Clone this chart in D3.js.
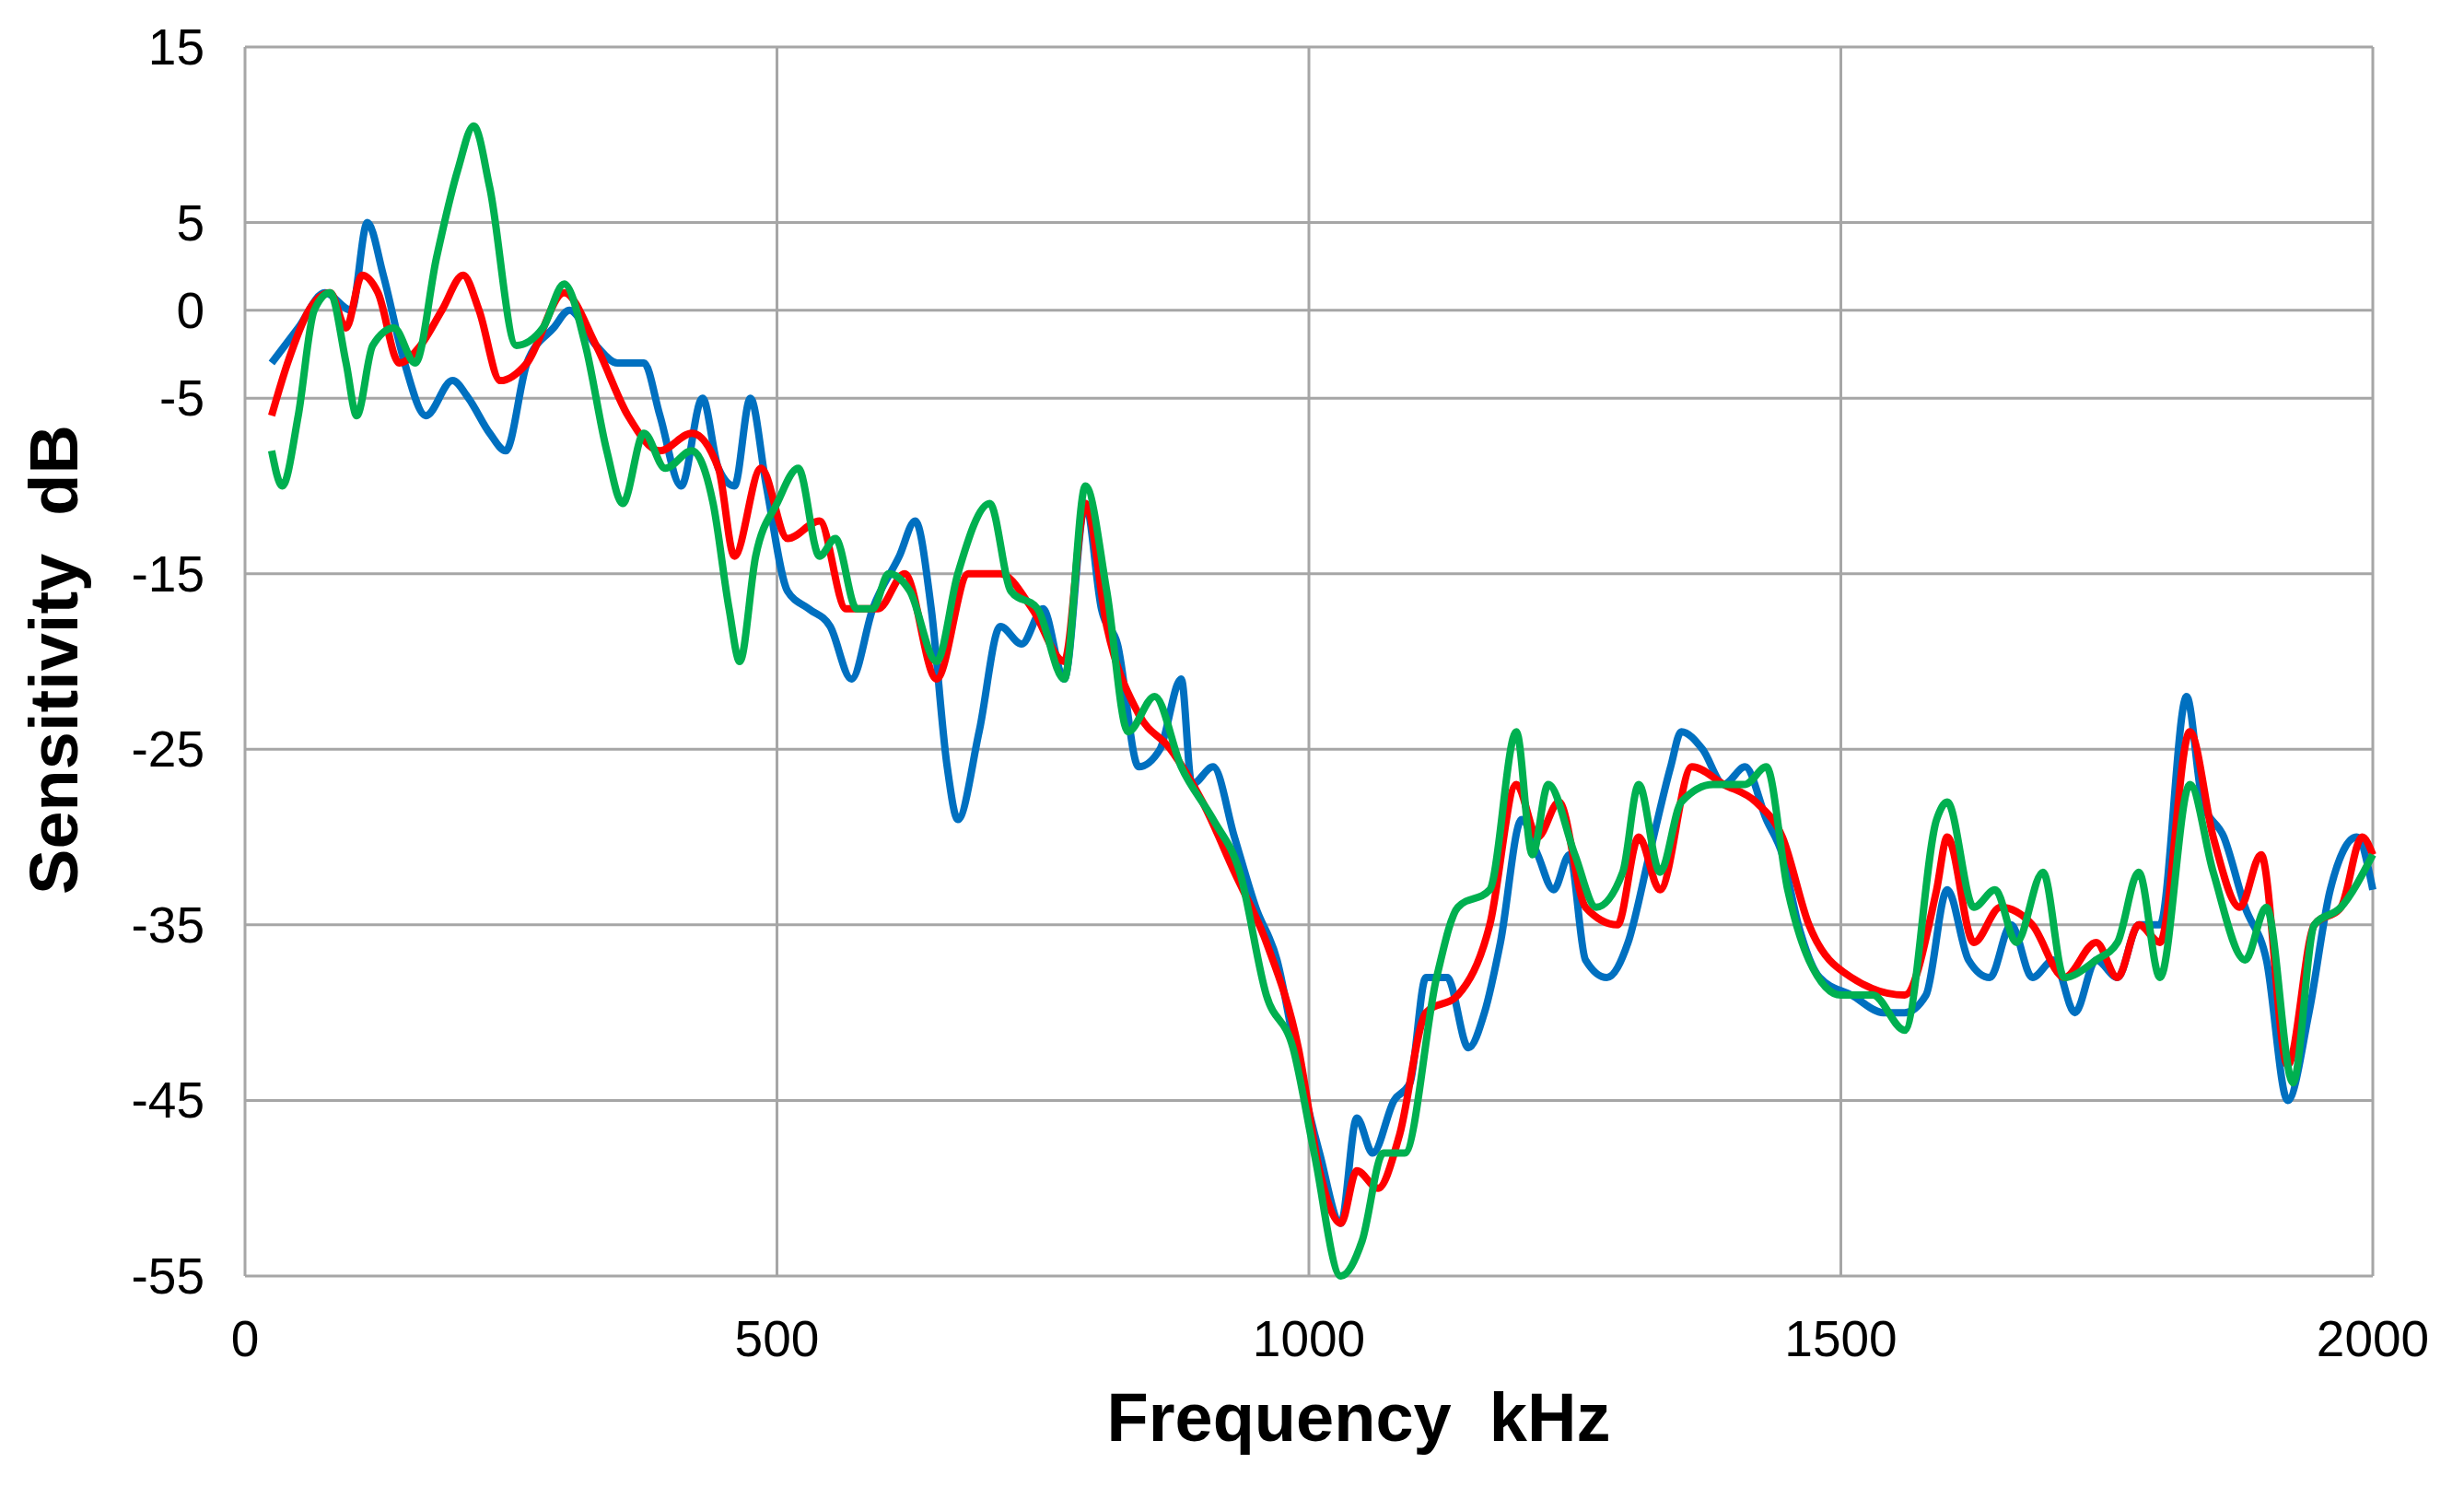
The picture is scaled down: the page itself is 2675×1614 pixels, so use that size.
<!DOCTYPE html>
<html><head><meta charset="utf-8">
<script src="https://cdn.jsdelivr.net/npm/d3@7"></script>
<style>body{margin:0;background:#fff}svg{display:block}</style>
</head><body>
<svg id="chart" width="2675" height="1614"></svg>
<script>
var yTicks = [15, 5, 0, -5, -15, -25, -35, -45, -55]
var xTicks = [0, 500, 1000, 1500, 2000]
var blueX = [25,50,75,100,115,130,150,170,195,210,230,245,265,290,305,330,350,375,390,410,430,445,460,475,490,510,530,550,570,590,615,630,645,660,670,690,710,730,750,770,790,805,820,840,860,880,890,910,930,950,970,990,1010,1030,1045,1060,1080,1095,1110,1130,1150,1165,1180,1200,1215,1230,1245,1260,1280,1300,1320,1340,1350,1370,1390,1410,1430,1445,1460,1480,1510,1540,1560,1580,1600,1620,1640,1660,1680,1700,1720,1740,1760,1780,1800,1825,1840,1860,1880,1900,1920,1940,1960,1985,2000]
var blueY = [-3,-1,1,0,5,2,-3,-6,-4,-5,-7,-8,-3,-1,0,-2,-3,-3,-6,-10,-5,-9,-10,-5,-10,-16,-17,-18,-21,-17,-14,-12,-17,-26,-29,-24,-18,-19,-17,-21,-11,-17,-19,-26,-25,-21,-27,-26,-30,-34,-37,-43,-48,-52,-46,-48,-45,-44,-38,-38,-42,-40,-36,-29,-31,-33,-31,-37,-38,-36,-31,-26,-24,-25,-27,-26,-29,-31,-35,-38,-39,-40,-40,-39,-33,-37,-38,-35,-38,-37,-40,-37,-38,-35,-35,-22,-28,-30,-34,-37,-45,-40,-33,-30,-33]
var redX = [25,40,60,80,95,110,125,145,165,185,205,220,240,265,300,330,360,390,420,445,460,485,510,540,565,595,620,650,680,710,740,770,790,810,840,870,900,930,960,990,1010,1030,1045,1065,1085,1110,1140,1170,1195,1215,1235,1260,1290,1310,1330,1360,1390,1420,1445,1470,1510,1560,1590,1600,1625,1650,1680,1710,1740,1760,1780,1800,1828,1850,1875,1895,1920,1945,1970,1990,2000]
var redY = [-6,-3,0,1,-1,2,1,-3,-2,0,2,0,-4,-3,1,-2,-6,-8,-7,-9,-14,-9,-13,-12,-17,-17,-15,-21,-15,-15,-17,-20,-11,-18,-23,-25,-28,-32,-36,-42,-49,-52,-49,-50,-47,-40,-39,-35,-27,-30,-28,-34,-35,-30,-33,-26,-27,-28,-30,-35,-38,-39,-33,-30,-36,-34,-35,-38,-36,-38,-35,-36,-24,-30,-34,-31,-43,-35,-34,-30,-31]
var greenX = [25,35,50,65,80,95,105,120,140,160,180,200,215,230,255,280,300,320,340,355,375,395,420,440,455,465,480,500,520,540,555,575,590,605,625,650,670,700,720,745,770,790,810,830,855,880,910,935,960,985,1005,1030,1050,1070,1090,1120,1140,1170,1195,1210,1225,1250,1270,1295,1310,1330,1350,1380,1410,1430,1450,1470,1500,1530,1560,1590,1600,1625,1645,1665,1690,1710,1740,1760,1780,1800,1828,1850,1880,1900,1925,1945,1970,2000]
var greenY = [-8,-10,-6,0,1,-3,-6,-2,-1,-3,3,8,10.5,7,-2,-1,1.5,-2,-8,-11,-7,-9,-8,-11,-17,-20,-14,-11,-9,-14,-13,-17,-17,-15,-16,-20,-15,-11,-16,-17,-21,-10,-16,-24,-22,-26,-29,-32,-39,-42,-48,-55,-53,-48,-48,-38,-34,-33,-24,-31,-27,-31,-34,-32,-27,-32,-28,-27,-27,-26,-33,-37,-39,-39,-41,-29,-28,-34,-33,-36,-32,-38,-37,-36,-32,-38,-27,-32,-37,-34,-44,-35,-34,-31]

var svg = d3.select('#chart')
var plotLeft = 266, plotRight = 2576, plotTop = 51, plotBottom = 1385
var x = d3.scaleLinear().domain([0, 2000]).range([plotLeft, plotRight])
var y = d3.scaleLinear().domain([-55, 15]).range([plotBottom, plotTop])
var font = '"Liberation Sans", Arial, sans-serif'

// grid
svg.selectAll('.hg').data(yTicks).enter().append('line')
    .attr('x1', plotLeft).attr('x2', plotRight)
    .attr('y1', function(d) { return y(d) }).attr('y2', function(d) { return y(d) })
    .attr('stroke', '#a6a6a6').attr('stroke-width', 3)
svg.selectAll('.vg').data(xTicks).enter().append('line')
    .attr('y1', plotTop).attr('y2', plotBottom)
    .attr('x1', function(d) { return x(d) }).attr('x2', function(d) { return x(d) })
    .attr('stroke', '#a6a6a6').attr('stroke-width', 3)

// tick labels
svg.selectAll('.yt').data(yTicks).enter().append('text')
    .attr('x', 222).attr('y', function(d) { return y(d) + 19 })
    .attr('text-anchor', 'end').attr('font-family', font).attr('font-size', 55)
    .text(function(d) { return d })
svg.selectAll('.xt').data(xTicks).enter().append('text')
    .attr('x', function(d) { return x(d) }).attr('y', 1472)
    .attr('text-anchor', 'middle').attr('font-family', font).attr('font-size', 55)
    .text(function(d) { return d })

// axis titles
svg.append('text').attr('x', 1475).attr('y', 1564).attr('text-anchor', 'middle')
    .attr('font-family', font).attr('font-weight', 'bold').attr('font-size', 74)
    .attr('xml:space', 'preserve').text('Frequency  kHz')
svg.append('text').attr('transform', 'translate(84,716) rotate(-90)').attr('text-anchor', 'middle')
    .attr('font-family', font).attr('font-weight', 'bold').attr('font-size', 74)
    .attr('xml:space', 'preserve').text('Sensitivity  dB')

var line = d3.line()
    .x(function(d) { return x(d[0]) })
    .y(function(d) { return y(d[1]) })
    .curve(d3.curveMonotoneX)
var series = [
    {xs: blueX, ys: blueY, color: '#0070C0'},
    {xs: redX, ys: redY, color: '#FF0000'},
    {xs: greenX, ys: greenY, color: '#00B050'}
]
series.forEach(function(s) {
    svg.append('path')
        .datum(d3.zip(s.xs, s.ys))
        .attr('d', line)
        .attr('fill', 'none')
        .attr('stroke', s.color)
        .attr('stroke-width', 8)
        .attr('stroke-linejoin', 'round')
})
</script>
</body></html>
